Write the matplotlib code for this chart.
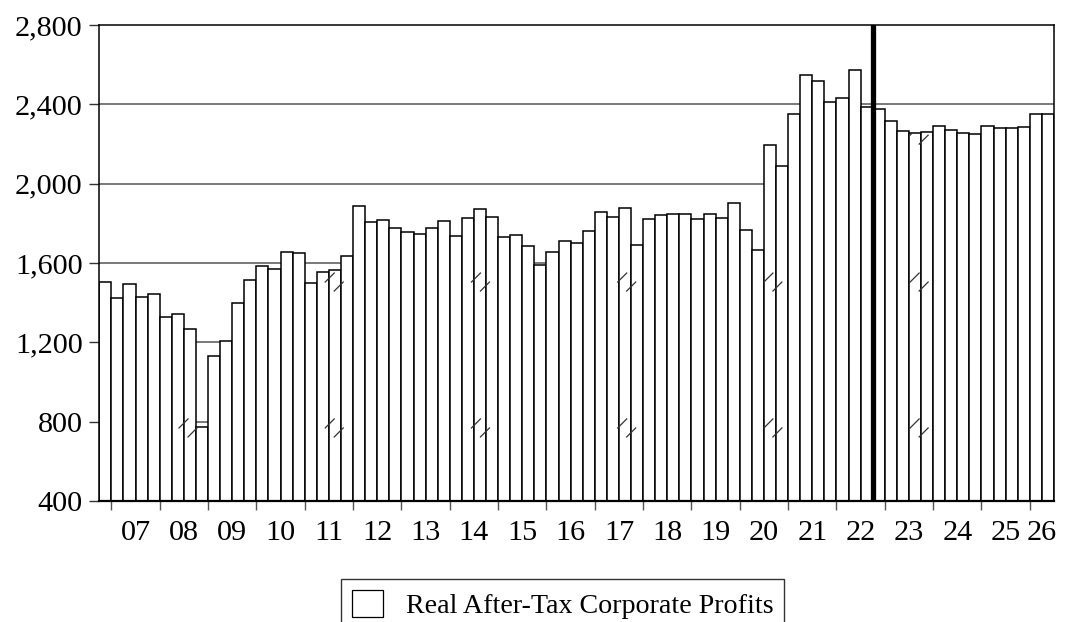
import matplotlib
matplotlib.use("Agg")
import matplotlib.pyplot as plt
from matplotlib.path import Path
from matplotlib.patches import Patch
from matplotlib.ticker import FuncFormatter, FixedLocator
import numpy as np

plt.rcParams['font.family'] = ['Liberation Serif', 'DejaVu Serif']

# Quarterly data, 2006Q4 .. 2026Q2
profits = [1503, 1422, 1493, 1430, 1445, 1329, 1343, 1266, 774, 1132,
           1208, 1397, 1514, 1586, 1571, 1657, 1649, 1501, 1556, 1563,
           1635, 1889, 1805, 1817, 1778, 1758, 1745, 1778, 1813, 1738,
           1825, 1871, 1832, 1730, 1743, 1684, 1590, 1655, 1709, 1699,
           1761, 1857, 1830, 1879, 1689, 1824, 1844, 1847, 1847, 1824,
           1849, 1826, 1904, 1768, 1666, 2195, 2089, 2353, 2548, 2516,
           2411, 2434, 2573, 2385, 2378, 2318, 2264, 2257, 2259, 2293,
           2273, 2257, 2252, 2290, 2283, 2281, 2288, 2353, 2350]
year_labels = ['07', '08', '09', '10', '11', '12', '13', '14', '15', '16',
               '17', '18', '19', '20', '21', '22', '23', '24', '25', '26']
y_ticks = [400, 800, 1200, 1600, 2000, 2400, 2800]
legend_label = 'Real After-Tax Corporate Profits'

W, H = 1071, 622
fig = plt.figure(figsize=(W / 100, H / 100), dpi=100)
L, R, T, B = 99.3, 1054.0, 25.1, 500.9
ax = fig.add_axes([L / W, 1 - B / H, (R - L) / W, (B - T) / H])

n = len(profits)
x = np.arange(n)
FS = 21.8
LFS = 20.2

for yv in y_ticks[1:-1]:
    ax.axhline(yv, color='#555555', lw=1.1, zorder=1)

bars = ax.bar(x, [v - 400 for v in profits], bottom=400, width=1.0,
              facecolor='white', edgecolor='black', linewidth=1.1, zorder=2)

# thick vertical marker line
ax.axvline(63.5, color='black', lw=3.8, zorder=4)

# decorative break marks, clipped to bars
verts, codes = [], []
for b in bars:
    p = b.get_path().transformed(b.get_patch_transform())
    verts.extend(p.vertices)
    codes.extend(p.codes)
clip_path = Path(verts, codes)
dx, dy = 0.745, 45.4
for k in range(6):
    cx = 6.84 + 12.1 * k
    for cy in (768, 1504, 2245):
        for (x0, y0, x1, y1) in ((cx - dx, cy, cx, cy + dy),
                                 (cx, cy - dy, cx + dx, cy)):
            ln, = ax.plot([x0, x1], [y0, y1], color='#333333', lw=0.9, zorder=3)
            ln.set_clip_path(clip_path, ax.transData)

ax.set_xlim(-0.5, n - 0.5)
ax.set_ylim(400, 2800)

ax.set_yticks(y_ticks)
ax.yaxis.set_major_formatter(FuncFormatter(lambda v, p: f'{int(v):,}'))
ax.tick_params(axis='y', direction='out', length=7, width=1.0, color='#333333',
               labelsize=FS, pad=5)

major_x = [0.5 + 4 * k for k in range(len(year_labels))]
minor_x = [min(2.5 + 4 * k, (0.5 + 4 * k + n - 0.5) / 2) for k in range(len(year_labels))]
ax.xaxis.set_major_locator(FixedLocator(major_x))
ax.xaxis.set_minor_locator(FixedLocator(minor_x))
ax.xaxis.set_major_formatter(FuncFormatter(lambda v, p: ''))
ax.set_xticklabels(year_labels, minor=True)
ax.tick_params(axis='x', which='major', direction='out', length=6.5, width=1.0,
               color='#555555')
ax.tick_params(axis='x', which='minor', length=0, labelsize=FS, pad=14)

for s in ['left', 'right', 'top']:
    ax.spines[s].set_linewidth(1.1)
ax.spines['bottom'].set_linewidth(1.6)

handle = Patch(facecolor='white', edgecolor='black', linewidth=0.9)
leg = fig.legend([handle], [legend_label], loc='upper left',
                 bbox_to_anchor=(341 / W, 1 - 579 / H), fontsize=LFS,
                 frameon=True, fancybox=False, edgecolor='black',
                 handlelength=1.1, handleheight=1.1, handletextpad=0.8,
                 borderpad=0.4, borderaxespad=0)
leg.get_frame().set_linewidth(1.0)

fig.savefig('out.png', dpi=100)
